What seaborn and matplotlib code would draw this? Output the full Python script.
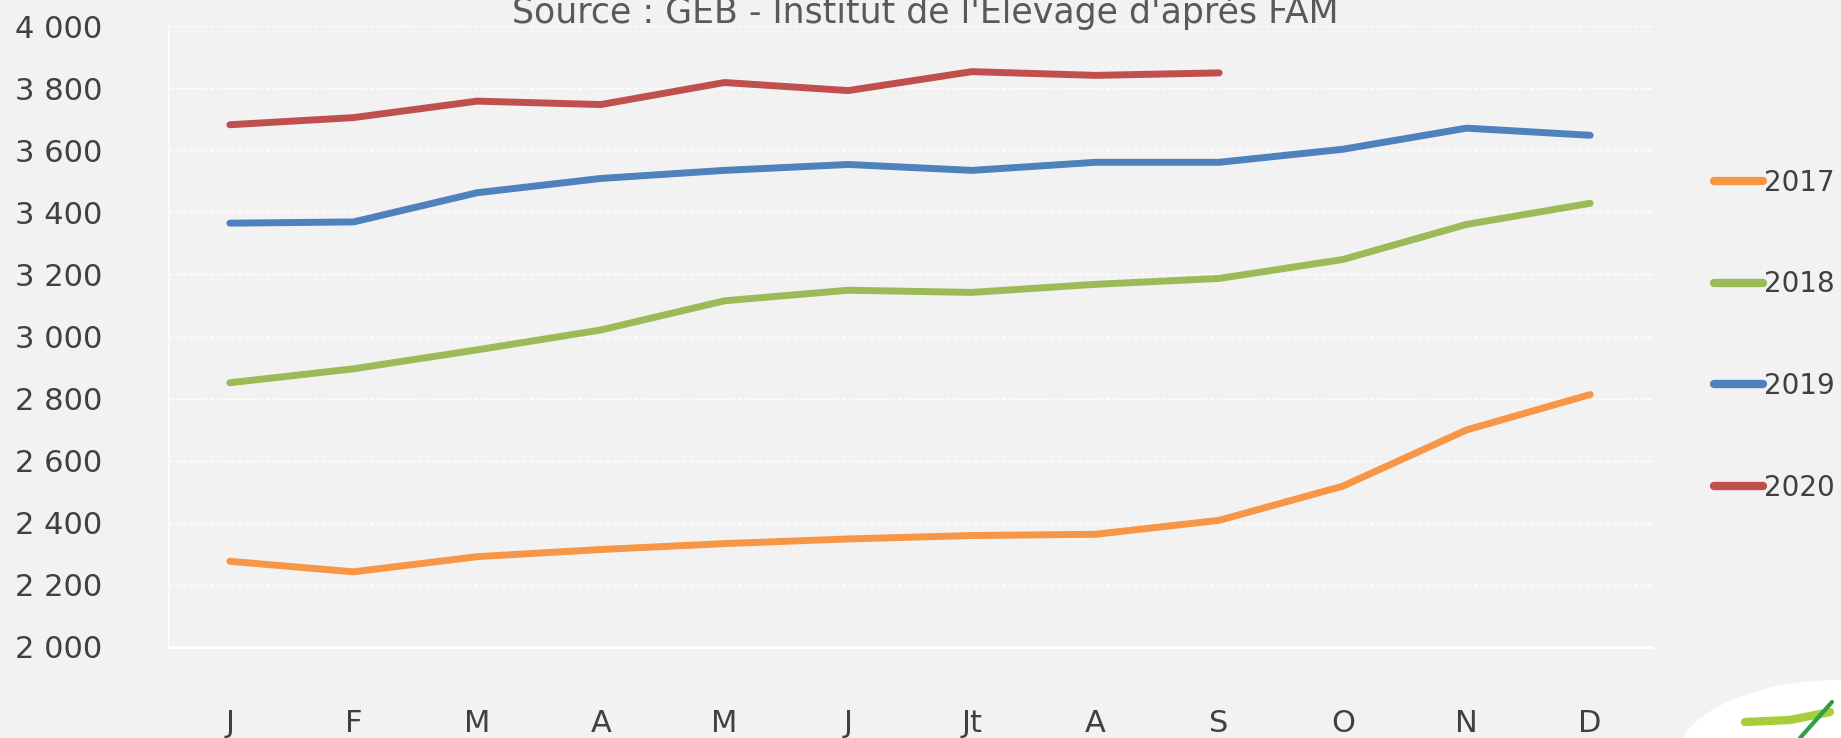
import numpy as np
import pandas as pd
import matplotlib.pyplot as plt
import seaborn as sns
from matplotlib.patches import Ellipse

# Data
months = ['J', 'F', 'M', 'A', 'M', 'J', 'Jt', 'A', 'S', 'O', 'N', 'D']
v2017 = [2276, 2242, 2291, 2314, 2333, 2348, 2359, 2363, 2408, 2518, 2699, 2813]
v2018 = [2851, 2896, 2957, 3021, 3115, 3149, 3142, 3168, 3187, 3248, 3361, 3429]
v2019 = [3365, 3369, 3463, 3509, 3535, 3554, 3535, 3561, 3561, 3603, 3671, 3648]
v2020 = [3682, 3705, 3758, 3747, 3818, 3792, 3853, 3841, 3849]
years = ['2017', '2018', '2019', '2020']
colors = ['#F79646', '#9BBB59', '#4F81BD', '#C0504D']

rows = []
for year, vals in zip(years, [v2017, v2018, v2019, v2020]):
    for i, v in enumerate(vals):
        rows.append({'mois': i, 'valeur': v, 'annee': year})
df = pd.DataFrame(rows)

sns.set_style('white')
plt.rcParams['font.family'] = ['DejaVu Sans']
bg = '#F2F2F2'

fig = plt.figure(figsize=(18.41, 7.38), dpi=100, facecolor=bg)
ax = fig.add_axes([168 / 1841, 1 - 647 / 738, (1652 - 168) / 1841, (647 - 26) / 738])
ax.set_facecolor(bg)

sns.lineplot(data=df, x='mois', y='valeur', hue='annee', hue_order=years,
             palette=colors, linewidth=5, ax=ax, legend=False,
             solid_capstyle='round', solid_joinstyle='round')

ax.set_xlim(-0.5, 11.5)
ax.set_ylim(2000, 4000)
ax.set_yticks(range(2000, 4001, 200))
ax.set_yticklabels([f'{v:,}'.replace(',', ' ') for v in range(2000, 4001, 200)])
ax.set_xticks(range(12))
ax.set_xticklabels(months)
ax.set_xticks(np.arange(-0.5, 12, 1), minor=True)
ax.tick_params(axis='x', which='major', length=0, pad=45, labelsize=22, labelcolor='#404040')
ax.tick_params(axis='x', which='minor', length=12, width=1, color='white', direction='out')
ax.tick_params(axis='y', length=0, pad=110, labelsize=22, labelcolor='#404040')
for lab in ax.get_yticklabels():
    lab.set_horizontalalignment('left')

ax.grid(axis='y', color='white', linestyle=(0, (3, 2)), linewidth=1)
ax.set_axisbelow(True)
for s in ['top', 'right']:
    ax.spines[s].set_visible(False)
ax.spines['bottom'].set_color('white')
ax.spines['bottom'].set_linewidth(2)
ax.spines['left'].set_color('white')
ax.spines['left'].set_linewidth(1)
ax.set_xlabel('')
ax.set_ylabel('')

# legend on the right
handles = [plt.Line2D([], [], color=c, linewidth=6) for c in colors]
leg = fig.legend(handles, years, loc='upper left', bbox_to_anchor=(1700 / 1841, 1 - 155 / 738),
                 frameon=False, fontsize=20, handlelength=1.75, handletextpad=0.05,
                 labelspacing=2.65, borderpad=0)
for t in leg.get_texts():
    t.set_color('#404040')

fig.text(925 / 1841, 1 - 23 / 738, "Source : GEB - Institut de l'Elevage d'après FAM",
         ha='center', va='baseline', fontsize=25, color='#595959')

# logo fragment bottom right
fig.add_artist(Ellipse((1841 / 1841, 1 - 760 / 738), 330 / 1841, 160 / 738,
                       angle=0, transform=fig.transFigure, facecolor='white',
                       edgecolor='none', zorder=5))
fig.add_artist(plt.Line2D([1745 / 1841, 1790 / 1841, 1830 / 1841],
                          [1 - 722 / 738, 1 - 720 / 738, 1 - 712 / 738],
                          transform=fig.transFigure, color='#A6CE39', linewidth=6,
                          solid_capstyle='round', zorder=6))
fig.add_artist(plt.Line2D([1800 / 1841, 1832 / 1841], [1 - 738 / 738, 1 - 702 / 738],
                          transform=fig.transFigure, color='#2E9E48', linewidth=3,
                          solid_capstyle='round', zorder=7))

fig.savefig('out.png', dpi=100, facecolor=bg)
